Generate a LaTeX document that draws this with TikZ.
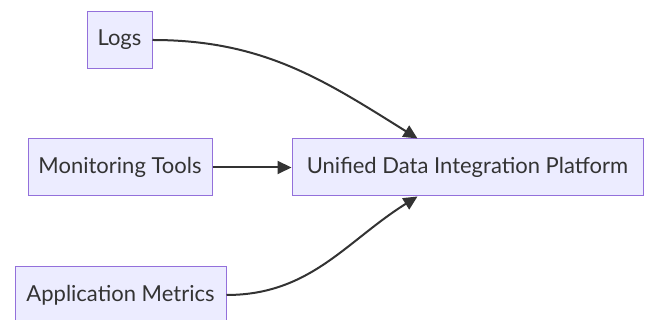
\documentclass[tikz,border=0pt]{standalone}
\usepackage{fontspec}
\setmainfont{Lato}
\usepackage{xcolor}
\usepackage{tikz}
\usetikzlibrary{positioning,arrows.meta}

\definecolor{nodefill}{HTML}{ECECFF}
\definecolor{nodeline}{HTML}{9370DB}
\definecolor{inkgray}{HTML}{333333}

\begin{document}
\begin{tikzpicture}[x=1pt, y=1pt,
    box/.style={draw=nodeline, line width=1pt, fill=nodefill, rectangle,
        text=inkgray, font=\fontsize{22}{26}\selectfont, minimum height=57pt, inner sep=0pt},
    link/.style={draw=inkgray, line width=2pt, -{Triangle[length=14pt,width=13pt]}}]
    \useasboundingbox (0,0) rectangle (648,320);

    \node[box, minimum width=65pt] (logs) at (119.5,280) {Logs};
    \node[box, minimum width=184pt] (monitor) at (120,152.5) {Monitoring Tools};
    \node[box, minimum width=351pt] (platform) at (467.5,152.5) {Unified Data Integration Platform};
    \node[box, minimum width=211pt] (appmetrics) at (120.5,25) {Application Metrics};

    \draw[link] (logs.east) to[out=0, in=148] ([xshift=126pt]platform.north west);
    \draw[link] (monitor) -- (platform);
    \draw[link] (appmetrics.east) to[out=0, in=212] ([xshift=126pt]platform.south west);
\end{tikzpicture}
\end{document}
